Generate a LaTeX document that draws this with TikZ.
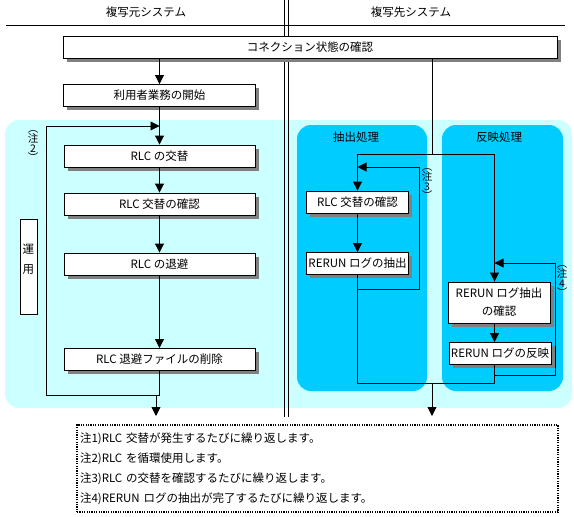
\documentclass[tikz,border=0pt]{standalone}
\usepackage{fontspec}
\setmainfont{Noto Sans CJK JP}
\usetikzlibrary{arrows.meta,shadows}
\definecolor{paleCyan}{HTML}{CCFFFF}
\definecolor{skyBlue}{HTML}{00CCFF}
\tikzset{etape/.style={draw,fill=white,line width=0.9pt,minimum height=22pt,inner sep=1pt,
  general shadow={fill=#1,shadow xshift=3.5pt,shadow yshift=-3.5pt}},etape/.default={gray}}
\tikzset{zone/.style={fill=#1,rounded corners=14pt},zone/.default={paleCyan}}

\begin{document}
\begin{tikzpicture}
[x=1pt,y=-1pt,font=\fontsize{11.5}{13}\selectfont,
fleche/.style={line width=0.9pt,-{Triangle[length=9pt,width=9pt]}},
trait/.style={line width=0.9pt},
renvoi/.style={font=\fontsize{10.5}{9.5}\selectfont,align=center,inner sep=0pt}]
\useasboundingbox (0,0) rectangle (574,517);
\fill [zone] (5,120) rectangle (572,408);
\fill [zone=skyBlue] (297,125) rectangle (427,391);
\fill [zone=skyBlue] (442,125) rectangle (563,391);
\draw [trait] (284,0) -- (284,417) (288,0) -- (288,417);
\draw [trait] (6,25) -- (565,25);
\node (titreA) at (146,12) {複写元システム};
\node (titreB) at (411,12) {複写先システム};
\node (extr) at (356,137) {抽出処理};
\node (refl) at (499,137) {反映処理};
\node [etape,minimum width=494pt] (conn) at (310,47.5) {コネクション状態の確認};
\node [etape,minimum width=192pt] (debut) at (159.5,95.5) {利用者業務の開始};
\node [etape,minimum width=191pt] (swap) at (159.5,156) {RLC の交替};
\node [etape,minimum width=191pt] (swapchk) at (159.5,204) {RLC 交替の確認};
\node [etape,minimum width=191pt] (save) at (159.5,264) {RLC の退避};
\node [etape,minimum width=191pt] (del) at (159.5,359.5) {RLC 退避ファイルの削除};
\node [draw,fill=white,line width=0.9pt,minimum width=17pt,minimum height=95pt] (unyo) at (28.5,266.5) {};
\node [inner sep=0pt,align=center,font=\fontsize{11.5}{20}\selectfont] (unyoT) at (28.5,259) {運\\用};
\node [etape,minimum width=102pt] (rchk) at (357.5,202) {RLC 交替の確認};
\node [etape,minimum width=102pt] (rext) at (357.5,263.5) {RERUN ログの抽出};
\node [etape,minimum width=102pt,minimum height=41pt,align=center,font=\fontsize{11.5}{18}\selectfont] (echk) at (499,302.5) {RERUN ログ抽出\\の確認};
\node [etape,minimum width=102pt] (eapp) at (500,353.5) {RERUN ログの反映};
\node [renvoi] (n2) at (33,146) {︵\\注\\2\\︶};
\node [renvoi] (n3) at (427,184) {︵\\注\\3\\︶};
\node [renvoi] (n4) at (562,281) {︵\\注\\4\\︶};
\node [draw,line width=1.2pt,dash pattern=on 1.2pt off 1.2pt,text width=475pt,minimum height=87pt,
  align=left,inner sep=3pt,font=\fontsize{11.5}{20}\selectfont] (notes) at (317.5,468.5)
  {注1)RLC 交替が発生するたびに繰り返します。\\
   注2)RLC を循環使用します。\\
   注3)RLC の交替を確認するたびに繰り返します。\\
   注4)RERUN ログの抽出が完了するたびに繰り返します。};
\coordinate (hautL) at (159.5,126);
\coordinate (basL) at (159.5,395);
\coordinate (sortieL) at (156,416);
\coordinate (fourche) at (432,154);
\coordinate (colE) at (494.5,0);
\coordinate (b3bas) at (419,289);
\coordinate (b3haut) at (419,167);
\coordinate (jonction) at (432,383);
\coordinate (b4bas) at (555,375);
\coordinate (b4haut) at (555,263);
\draw [fleche] (debut.north|-conn.south) -- (debut.north);
\draw [fleche] (debut.south) -- (swap.north);
\draw [fleche] (swap) -- (swapchk);
\draw [fleche] (swapchk) -- (save);
\draw [fleche] (save) -- (del);
\draw [trait] (del.south) -- (basL);
\draw [fleche] (basL) -- ++(-113.5,0) |- (hautL);
\draw [fleche] (sortieL|-basL) -- (sortieL);
\draw [trait] (conn.south-|fourche) -- (fourche);
\draw [fleche] (fourche) -| (rchk.north);
\draw [fleche] (fourche) -| (colE|-echk.north);
\draw [fleche] (rchk) -- (rext);
\draw [fleche] (rext.south) |- (b3bas) -- (b3haut) -- (b3haut-|rchk.north);
\draw [trait] (rext.south) -- (rext.south|-jonction) -- (colE|-jonction) -- (colE|-eapp.south);
\draw [fleche] (jonction) -- ++(0,33);
\draw [fleche] (colE|-echk.south) -- (colE|-eapp.north);
\draw [fleche] (colE|-b4bas) -- (b4bas) -- (b4haut) -- (colE|-b4haut);
\end{tikzpicture}
\end{document}
